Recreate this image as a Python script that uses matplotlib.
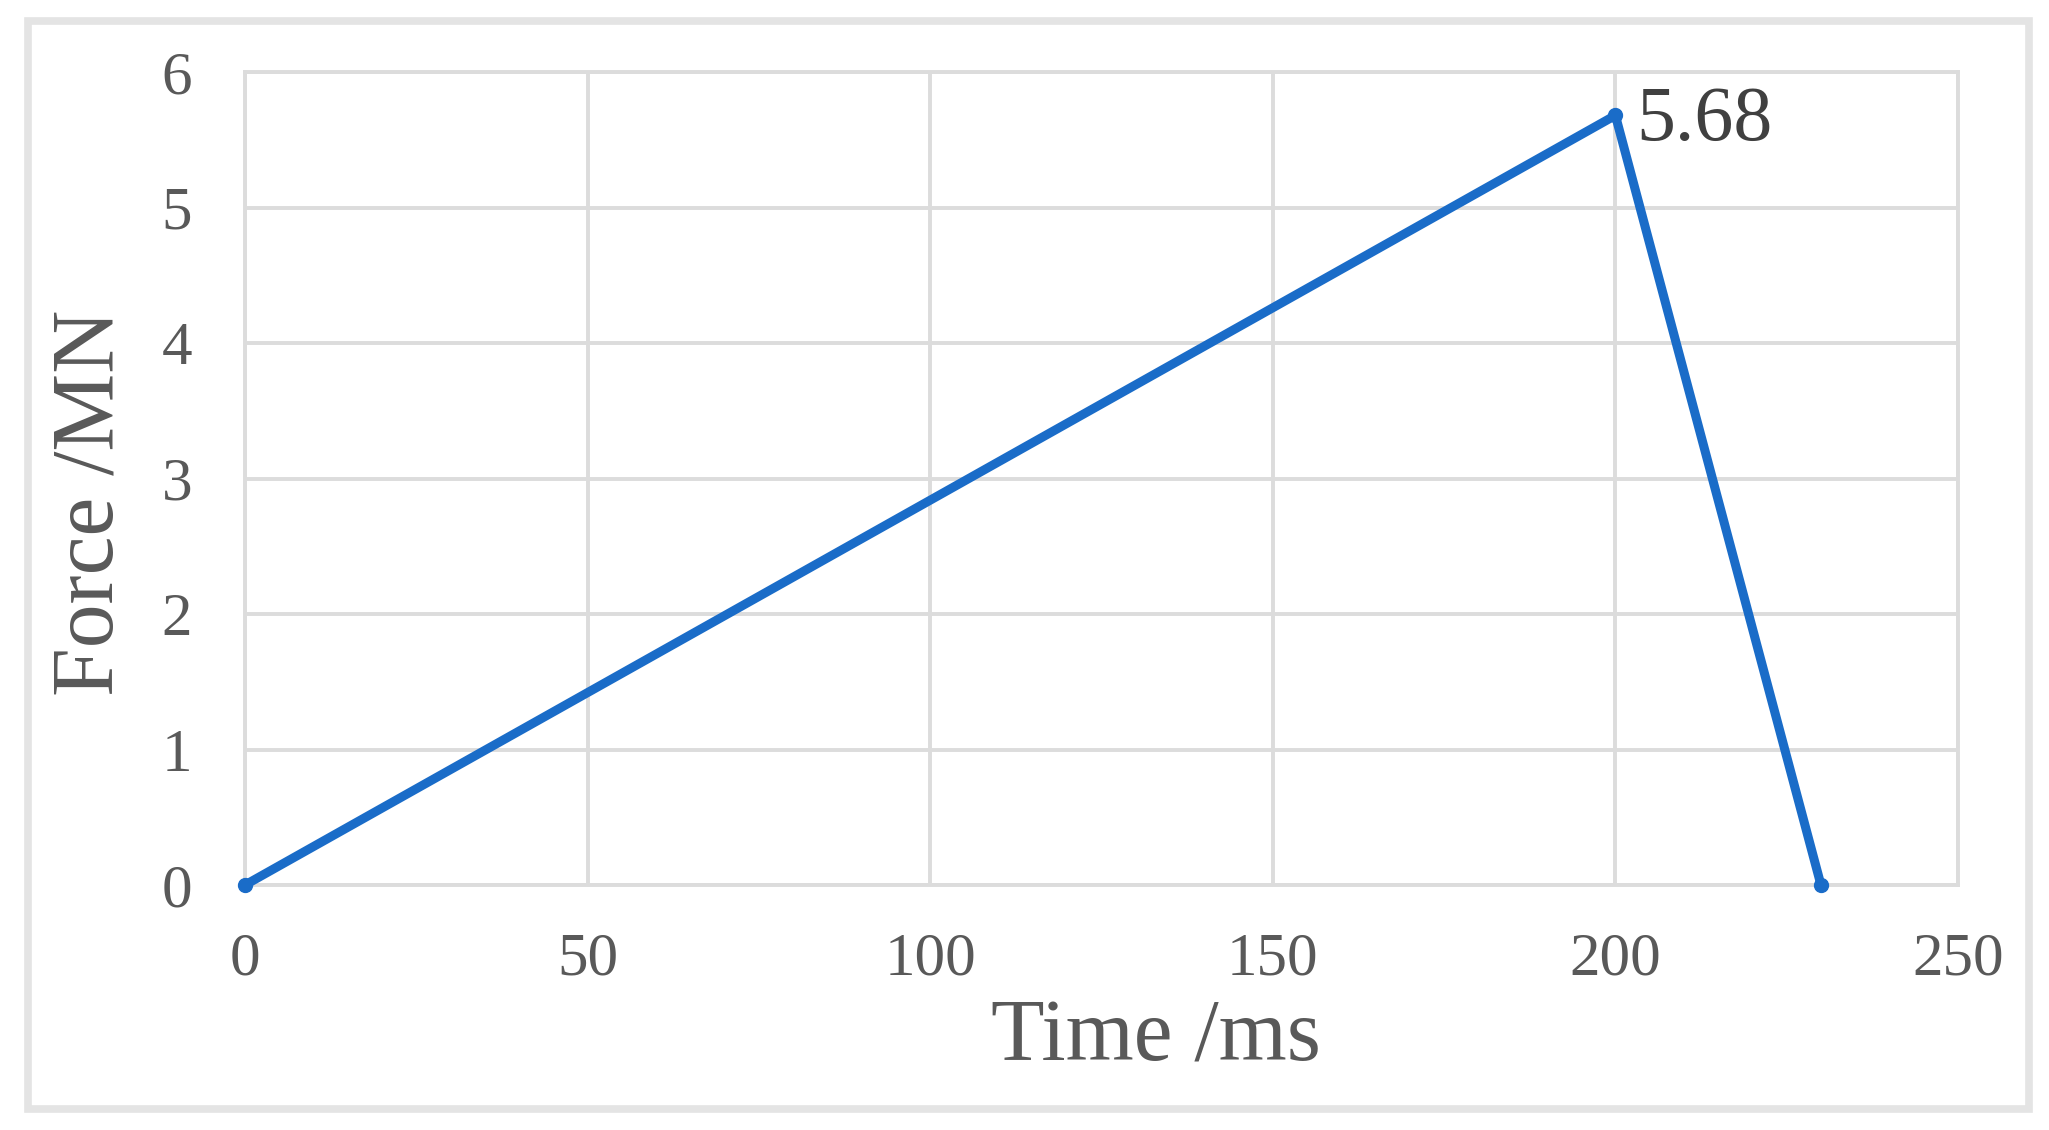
import matplotlib
matplotlib.use("Agg")
import matplotlib.pyplot as plt
from matplotlib.patches import Rectangle

time_ms = [0, 200, 230]
force_mn = [0, 5.68, 0]
peak_label = "5.68"
x_ticks = [0, 50, 100, 150, 200, 250]
y_ticks = [0, 1, 2, 3, 4, 5, 6]

W, H = 2049, 1130
fig = plt.figure(figsize=(W / 100, H / 100), dpi=100)
fig.patch.set_facecolor("white")

# outer frame
fig.patches.append(Rectangle((28 / W, 1 - 1109 / H), (2029 - 28) / W, (1109 - 21) / H,
                             transform=fig.transFigure, fill=False,
                             edgecolor="#e4e4e4", linewidth=5.5))

left, right, top, bottom = 245, 1958, 72, 885
ax = fig.add_axes([left / W, 1 - bottom / H, (right - left) / W, (bottom - top) / H])

serif = ["Liberation Serif", "DejaVu Serif"]

ax.plot(time_ms, force_mn, color="#1a6cc8", linewidth=6.5, marker="o",
        markersize=10, solid_joinstyle="miter", zorder=3, clip_on=False)

ax.set_xlim(0, 250)
ax.set_ylim(0, 6)
ax.set_xticks(x_ticks)
ax.set_yticks(y_ticks)
ax.grid(True, color="#dcdcdc", linewidth=2.8)
ax.set_axisbelow(True)
for s in ax.spines.values():
    s.set_color("#dcdcdc")
    s.set_linewidth(2.8)
ax.tick_params(length=0, labelsize=44, labelcolor="#595959")
ax.tick_params(axis="x", pad=34)
ax.tick_params(axis="y", pad=38)
for lab in ax.get_xticklabels() + ax.get_yticklabels():
    lab.set_fontfamily(serif)

ax.annotate(peak_label, xy=(time_ms[1], force_mn[1]), xytext=(15, -4),
            textcoords="offset points", fontsize=56, color="#404040",
            family=serif, ha="left", va="center")

fig.text(1156 / W, 1 - 1039 / H, "Time /ms", fontsize=63, color="#595959",
         family=serif, ha="center", va="center")
fig.text(91 / W, 1 - 503 / H, "Force /MN", fontsize=63, color="#595959",
         family=serif, ha="center", va="center", rotation=90)

fig.savefig("out.png", dpi=100)
